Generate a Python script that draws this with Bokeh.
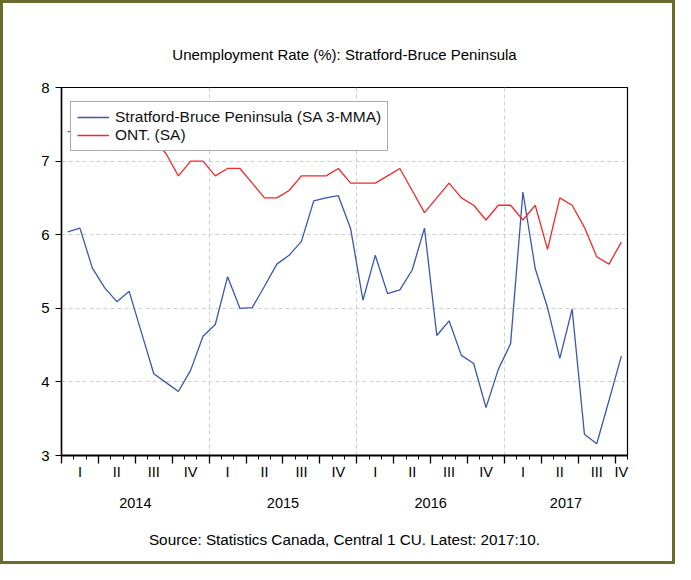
from bokeh.plotting import figure
from bokeh.models import FixedTicker, Legend, LegendItem, LinearAxis
from bokeh.embed import file_html
from bokeh.resources import INLINE

# ---- data (monthly, Jan 2014 .. Oct 2017) ----
months_n = 46
stratford = [6.04, 6.09, 5.55, 5.28, 5.09, 5.23, 4.67, 4.11, 3.99, 3.87, 4.16, 4.62,
             4.78, 5.43, 5.00, 5.01, 5.30, 5.60, 5.72, 5.91, 6.46, 6.50, 6.53, 6.08,
             5.11, 5.72, 5.20, 5.25, 5.52, 6.09, 4.63, 4.83, 4.36, 4.25, 3.65, 4.17,
             4.52, 6.58, 5.54, 5.01, 4.32, 4.99, 3.29, 3.16, 3.75, 4.35]
ontario = [7.4, 7.4, 7.5, 7.5, 7.4, 7.5, 7.5, 7.3, 7.1, 6.8, 7.0, 7.0,
           6.8, 6.9, 6.9, 6.7, 6.5, 6.5, 6.6, 6.8, 6.8, 6.8, 6.9, 6.7,
           6.7, 6.7, 6.8, 6.9, 6.6, 6.3, 6.5, 6.7, 6.5, 6.4, 6.2, 6.4,
           6.4, 6.2, 6.4, 5.8, 6.5, 6.4, 6.1, 5.7, 5.6, 5.9]
years = ["2014", "2015", "2016", "2017"]
quarter_names = ["I", "II", "III", "IV"]
y_ticks = [3, 4, 5, 6, 7, 8]

title_text = "Unemployment Rate (%): Stratford-Bruce Peninsula"
source_text = "Source: Statistics Canada, Central 1 CU. Latest: 2017:10."
series_names = ["Stratford-Bruce Peninsula (SA 3-MMA)", "ONT. (SA)"]

FONT = "Liberation Sans"
BLUE = "#3a56b0"
RED = "#f02a2a"

x = [i + 0.5 for i in range(months_n)]

p = figure(width=675, height=564, output_backend="svg", toolbar_location=None,
           x_range=(0, months_n), y_range=(3, 8),
           min_border_left=58, min_border_right=51,
           min_border_top=84, min_border_bottom=112)
p.styles = {"border": "3px solid #6b6b2b"}

p.outline_line_color = "black"
p.outline_line_width = 1.2
p.background_fill_color = "white"
p.border_fill_color = "white"

# title
p.title.text = title_text
p.title.align = "center"
p.title.text_font = FONT
p.title.text_font_size = "15px"
p.title.text_font_style = "normal"
p.title.text_color = "black"
p.title.standoff = 50

# grid
p.xgrid.ticker = FixedTicker(ticks=[12, 24, 36])
p.ygrid.ticker = FixedTicker(ticks=[4, 5, 6, 7])
for g in (p.xgrid, p.ygrid):
    g.grid_line_color = "#cfcfcf"
    g.grid_line_dash = "4 3"
    g.grid_line_width = 1

# y axis
p.yaxis.ticker = FixedTicker(ticks=y_ticks)
p.yaxis.major_label_text_font = FONT
p.yaxis.major_label_text_font_size = "15px"
p.yaxis.major_label_text_color = "black"
p.yaxis.major_tick_in = 0
p.yaxis.major_tick_out = 6
p.yaxis.minor_tick_line_color = None
p.yaxis.major_label_standoff = 6
p.yaxis.axis_line_width = 1.5

# x axis: month / quarter ticks only
q_bounds = list(range(0, months_n, 3))
p.xaxis.ticker = FixedTicker(ticks=q_bounds, minor_ticks=list(range(0, months_n + 1)))
p.xaxis.major_label_overrides = {t: "" for t in q_bounds}
p.xaxis.major_label_text_font_size = "8px"
p.xaxis.major_label_standoff = 0
p.xaxis.major_tick_in = 0
p.xaxis.major_tick_out = 8
p.xaxis.minor_tick_in = 0
p.xaxis.minor_tick_out = 4
p.xaxis.axis_line_width = 2
p.xaxis.major_tick_line_width = 1.3
p.xaxis.minor_tick_line_width = 1

# quarter labels axis
q_pos, q_lab = [], []
for yi in range(len(years)):
    for qi, qn in enumerate(quarter_names):
        qs = yi * 12 + qi * 3
        if qs >= months_n:
            break
        qe = min(qs + 3, months_n)
        q_pos.append((qs + qe) / 2)
        q_lab.append(qn)
qax = LinearAxis(ticker=FixedTicker(ticks=q_pos),
                 major_label_overrides=dict(zip(q_pos, q_lab)))
# year labels axis
y_pos = [(yi * 12 + min(yi * 12 + 12, months_n)) / 2 for yi in range(len(years))]
yax = LinearAxis(ticker=FixedTicker(ticks=y_pos),
                 major_label_overrides=dict(zip(y_pos, years)))
yax.axis_label = source_text
yax.axis_label_text_font = FONT
yax.axis_label_text_font_size = "15.3px"
yax.axis_label_text_font_style = "normal"
yax.axis_label_text_color = "black"
yax.axis_label_standoff = 20
for ax in (qax, yax):
    ax.axis_line_color = None
    ax.major_tick_line_color = None
    ax.minor_tick_line_color = None
    ax.major_tick_out = 0
    ax.major_tick_in = 0
    ax.major_label_text_font = FONT
    ax.major_label_text_font_size = "14.5px"
    ax.major_label_text_color = "black"
qax.major_label_standoff = 0
yax.major_label_standoff = 15
p.add_layout(qax, "below")
p.add_layout(yax, "below")

# lines
r1 = p.line(x, stratford, line_color=BLUE, line_width=1.3)
r2 = p.line(x, ontario, line_color=RED, line_width=1.3)

legend = Legend(items=[LegendItem(label=series_names[0], renderers=[r1]),
                       LegendItem(label=series_names[1], renderers=[r2])],
                location=(9, 304), orientation="vertical")
legend.label_text_font = FONT
legend.label_text_font_size = "15.5px"
legend.label_text_color = "#111111"
legend.padding = 6
legend.spacing = 0
legend.margin = 0
legend.label_height = 18
legend.glyph_height = 18
legend.glyph_width = 32
legend.label_standoff = 6
legend.border_line_color = "#555555"
legend.border_line_width = 1.5
legend.background_fill_color = "white"
legend.background_fill_alpha = 1
p.add_layout(legend, "center")

open("out.html", "w").write(file_html(p, INLINE))
